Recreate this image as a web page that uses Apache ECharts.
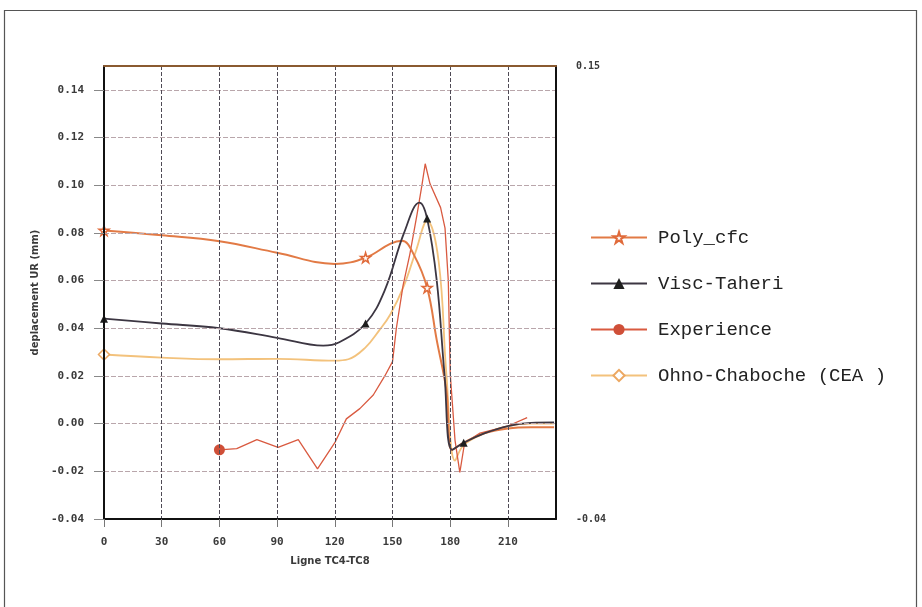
<!DOCTYPE html>
<html>
<head>
<meta charset="utf-8">
<script src="https://cdn.jsdelivr.net/npm/echarts@6/dist/echarts.min.js"></script>
<style>
  html, body { margin: 0; padding: 0; background: #fff; }
  #chart { width: 922px; height: 607px; }
</style>
</head>
<body>
<div id="chart"></div>
<script>
  // x positions along the line TC4-TC8, values = displacement UR (mm)
  const polyX = [0, 30, 60, 90, 120, 136, 149, 155, 161, 168, 173, 178, 181, 187, 198, 210, 222, 234];
  const polyY = [0.081, 0.079, 0.0765, 0.0717, 0.067, 0.0696, 0.0755, 0.0767, 0.071, 0.057, 0.035, 0.014, -0.011, -0.008, -0.004, -0.002, -0.0015, -0.0015];
  const polyMarks = [0, 5, 9];

  const viscX = [0, 30, 60, 90, 114, 122, 136, 146, 156, 164, 168, 173, 177, 181, 187, 198, 210, 222, 234];
  const viscY = [0.044, 0.042, 0.040, 0.036, 0.0327, 0.034, 0.042, 0.056, 0.080, 0.0927, 0.086, 0.060, 0.021, -0.011, -0.008, -0.004, -0.001, 0.0003, 0.0005];
  const viscMarks = [0, 6, 10, 14];

  const expX = [60, 69, 79.5, 90.5, 101, 111, 120, 126, 133, 140, 146, 150, 152, 155.5, 159, 162.8, 165.3, 167, 169.5, 175, 177.3, 179, 180, 182.5, 185, 187.5, 195.5, 210, 220];
  const expY = [-0.011, -0.0105, -0.0067, -0.010, -0.0067, -0.019, -0.008, 0.002, 0.0063, 0.012, 0.020, 0.026, 0.040, 0.058, 0.071, 0.088, 0.100, 0.109, 0.1006, 0.0906, 0.082, 0.060, 0.021, -0.007, -0.0205, -0.008, -0.004, -0.001, 0.0025];
  const expMarks = [0];

  const ohnoX = [0, 30, 60, 90, 120, 127, 136, 143, 149, 156, 162, 168, 174, 178, 182.5, 187, 198, 210, 222, 234];
  const ohnoY = [0.029, 0.0277, 0.027, 0.0272, 0.0264, 0.027, 0.032, 0.039, 0.046, 0.058, 0.072, 0.085, 0.068, 0.021, -0.0155, -0.009, -0.004, -0.001, 0.0, 0.0];
  const ohnoMarks = [0];

  const xTicks = [0, 30, 60, 90, 120, 150, 180, 210];

  const starPath = 'path://M50,0 L61,35 L98,35 L68,57 L79,91 L50,70 L21,91 L32,57 L2,35 L39,35 Z';

  function points(xs, ys, marks) {
    return xs.map(function (x, i) {
      const item = { value: [x, ys[i]] };
      if (marks.indexOf(i) < 0) item.symbol = 'none';
      return item;
    });
  }

  const chart = echarts.init(document.getElementById('chart'));
  const tickFont = { fontFamily: 'DejaVu Sans Mono', fontWeight: 'bold', fontSize: 11, color: '#3a3a3a' };

  const option = {
    animation: false,
    backgroundColor: '#fff',
    graphic: [{
      type: 'rect',
      shape: { x: 4.5, y: 10.5, width: 912, height: 640 },
      style: { fill: 'none', stroke: '#555', lineWidth: 1.2 },
      silent: true
    }],
    grid: { left: 104, right: 366, top: 66, bottom: 88 },
    legend: {
      orient: 'vertical',
      left: 590,
      top: 228,
      padding: 0,
      itemWidth: 56,
      itemHeight: 14,
      itemGap: 27,
      textStyle: { fontFamily: 'Liberation Mono', fontSize: 19, lineHeight: 19, color: '#222', padding: [0, 0, 0, 6] },
      data: ['Poly_cfc', 'Visc-Taheri', 'Experience', 'Ohno-Chaboche (CEA )']
    },
    xAxis: [{
      type: 'value',
      min: 0,
      max: 235,
      interval: 30,
      name: 'Ligne TC4-TC8',
      nameLocation: 'middle',
      nameGap: 37,
      nameTextStyle: { fontFamily: 'DejaVu Sans', fontWeight: 'bold', fontSize: 10, color: '#3a3a3a' },
      axisLine: { onZero: false, lineStyle: { color: '#111', width: 2 } },
      axisTick: { show: true, inside: false, length: 8, lineStyle: { color: '#777' } },
      axisLabel: Object.assign({ margin: 18, showMaxLabel: false,
        formatter: function (v) { return xTicks.indexOf(v) >= 0 ? String(v) : ''; } }, tickFont),
      splitLine: { show: true, lineStyle: { color: '#4f4a55', type: [4, 2], width: 1 } },
      z: 6
    }, {
      type: 'value',
      position: 'top',
      min: 0,
      max: 235,
      axisLine: { onZero: false, lineStyle: { color: '#8a5a30', width: 2 } },
      axisTick: { show: false },
      axisLabel: { show: false },
      splitLine: { show: false },
      z: 6
    }],
    yAxis: [{
      type: 'value',
      min: -0.04,
      max: 0.15,
      interval: 0.02,
      name: 'deplacement UR (mm)',
      nameLocation: 'middle',
      nameGap: 64,
      nameTextStyle: { fontFamily: 'DejaVu Sans', fontWeight: 'bold', fontSize: 10, color: '#3a3a3a' },
      axisLine: { onZero: false, lineStyle: { color: '#111', width: 2 } },
      axisTick: { show: true, inside: false, length: 10, lineStyle: { color: '#888' } },
      axisLabel: Object.assign({ margin: 20, showMaxLabel: false,
        formatter: function (v) { return v.toFixed(2); } }, tickFont),
      splitLine: { show: true, lineStyle: { color: '#b9a6ab', type: [5, 2], width: 1 } },
      z: 6
    }, {
      type: 'value',
      position: 'right',
      min: -0.04,
      max: 0.15,
      interval: 0.19,
      axisLine: { show: true, onZero: false, lineStyle: { color: '#111', width: 2 } },
      axisTick: { show: false },
      axisLabel: Object.assign({ margin: 20, formatter: function (v) { return v.toFixed(2); } }, tickFont, { fontSize: 10 }),
      splitLine: { show: false },
      z: 6
    }],
    series: [{
      name: 'Poly_cfc',
      type: 'line',
      smooth: 0.4,
      symbol: starPath,
      symbolSize: 10,
      itemStyle: { color: '#fff', borderColor: '#e06a3a', borderWidth: 1.5 },
      lineStyle: { color: '#e27a45', width: 2 },
      data: points(polyX, polyY, polyMarks),
      z: 4
    }, {
      name: 'Visc-Taheri',
      type: 'line',
      smooth: 0.4,
      symbol: 'triangle',
      symbolSize: 8,
      itemStyle: { color: '#1e1e1e' },
      lineStyle: { color: '#3c3642', width: 1.8 },
      data: points(viscX, viscY, viscMarks),
      z: 5
    }, {
      name: 'Experience',
      type: 'line',
      smooth: false,
      symbol: 'circle',
      symbolSize: 11,
      itemStyle: { color: '#cf4f38' },
      lineStyle: { color: '#d95a40', width: 1.3 },
      data: points(expX, expY, expMarks),
      z: 3
    }, {
      name: 'Ohno-Chaboche (CEA )',
      type: 'line',
      smooth: 0.4,
      symbol: 'diamond',
      symbolSize: 11,
      itemStyle: { color: '#fff', borderColor: '#eca862', borderWidth: 1.5 },
      lineStyle: { color: '#f3c27c', width: 1.8 },
      data: points(ohnoX, ohnoY, ohnoMarks),
      z: 2
    }]
  };

  chart.setOption(option);
</script>
</body>
</html>
